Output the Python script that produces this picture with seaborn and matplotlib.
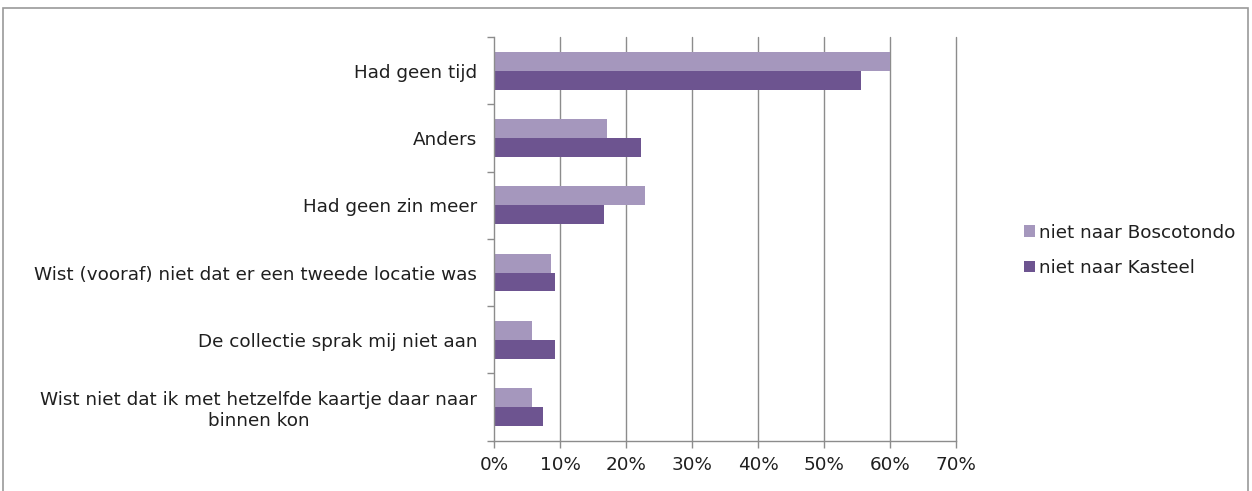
import matplotlib
matplotlib.use("Agg")
import matplotlib.pyplot as plt
import seaborn as sns
import pandas as pd
from matplotlib.patches import Rectangle, Patch
from matplotlib.ticker import FixedLocator, PercentFormatter

# Reasons for not visiting the second location (share of respondents, %)
categories = [
    "Had geen tijd",
    "Anders",
    "Had geen zin meer",
    "Wist (vooraf) niet dat er een tweede locatie was",
    "De collectie sprak mij niet aan",
    "Wist niet dat ik met hetzelfde kaartje daar naar\nbinnen kon",
]
series_names = ["niet naar Boscotondo", "niet naar Kasteel"]
boscotondo = [60.0, 17.1, 22.9, 8.6, 5.7, 5.7]
kasteel = [55.6, 22.2, 16.7, 9.3, 9.3, 7.4]
x_ticks = [0, 10, 20, 30, 40, 50, 60, 70]

colors = ["#A597BD", "#6D5490"]

df = pd.DataFrame({
    "reden": categories * 2,
    "groep": [series_names[0]] * len(categories) + [series_names[1]] * len(categories),
    "pct": boscotondo + kasteel,
})

sns.set_theme(style="white")
plt.rcParams["font.family"] = ["DejaVu Sans"]
FS = 13.2
TXT = "#1f1f1f"

fig = plt.figure(figsize=(12.52, 4.91), dpi=100)
ax = fig.add_axes([0.3946, 0.1024, 0.369, 0.8222])

sns.barplot(
    data=df, x="pct", y="reden", hue="groep", order=categories,
    hue_order=series_names, palette=colors, orient="h", width=0.56,
    saturation=1, ax=ax, legend=False, errorbar=None, linewidth=0,
)

grey = "#8C8C8C"
ax.set_xlim(0, 70)
ax.set_ylim(len(categories) - 0.5, -0.5)
ax.xaxis.set_major_locator(FixedLocator(x_ticks))
ax.xaxis.set_major_formatter(PercentFormatter(decimals=0))
ax.set_xlabel("")
ax.set_ylabel("")

for x in x_ticks[1:]:
    ax.axvline(x, color=grey, lw=1.0, zorder=0, clip_on=False)

for side in ["top", "right"]:
    ax.spines[side].set_visible(False)
for side in ["left", "bottom"]:
    ax.spines[side].set_color(grey)
    ax.spines[side].set_linewidth(1.0)

ax.tick_params(axis="x", which="major", direction="out", length=5, width=1,
               color=grey, labelsize=FS, labelcolor=TXT, pad=6, bottom=True)
ax.tick_params(axis="y", which="major", length=0, labelsize=FS,
               labelcolor=TXT, pad=12)
ax.yaxis.set_minor_locator(FixedLocator([i - 0.5 for i in range(len(categories) + 1)]))
ax.tick_params(axis="y", which="minor", direction="out", length=5, width=1,
               color=grey, left=True)
for lbl in ax.get_yticklabels():
    lbl.set_multialignment("center")

handles = [Patch(facecolor=c, edgecolor="none") for c in colors]
fig.legend(handles, series_names, loc="center left",
           bbox_to_anchor=(0.812, 0.49), frameon=False, fontsize=FS,
           labelcolor=TXT, handlelength=0.6, handleheight=0.6,
           handletextpad=0.2, labelspacing=0.95, borderaxespad=0)

# outer chart frame
fig.patches.append(Rectangle((3 / 1252, -0.1), 1245 / 1252, 1.1 - 8 / 491,
                             transform=fig.transFigure, fill=False,
                             edgecolor="#9A9A9A", lw=1.2))

fig.savefig("out.png", dpi=100)
